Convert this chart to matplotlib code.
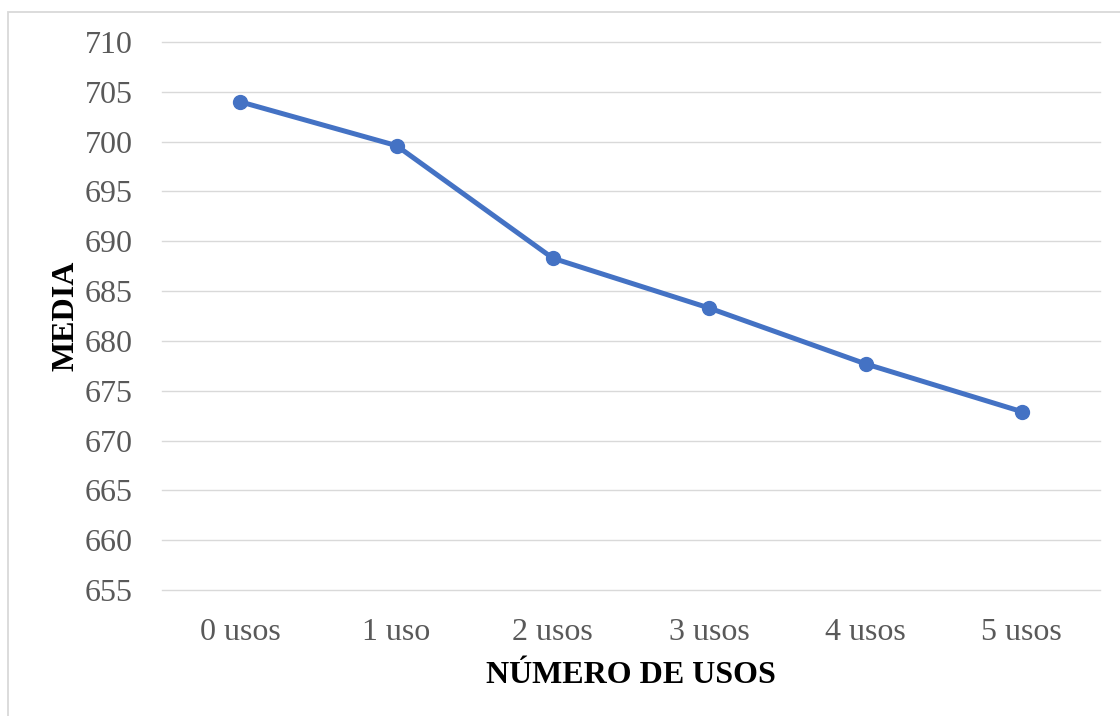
import matplotlib
matplotlib.use("Agg")
import matplotlib.pyplot as plt
from matplotlib.patches import Rectangle

# datos
categorias = ["0 usos", "1 uso", "2 usos", "3 usos", "4 usos", "5 usos"]
media = [704.0, 699.6, 688.3, 683.3, 677.7, 672.9]
y_ticks = list(range(655, 711, 5))

plt.rcParams['font.family'] = ['Liberation Serif', 'DejaVu Serif']

fig = plt.figure(figsize=(11.2, 7.16), dpi=100)
ax = fig.add_axes([162 / 1120, 1 - 590 / 716, 938 / 1120, 548 / 716])

# borde del área del gráfico
fig.patches.append(Rectangle((8 / 1120, -0.1), 1.2, 1.1 - 12 / 716,
                             transform=fig.transFigure, fill=False,
                             edgecolor='#D9D9D9', linewidth=1.3))

x = list(range(len(categorias)))
ax.plot(x, media, color='#4472C4', linewidth=3.6, marker='o',
        markersize=10, solid_capstyle='round', zorder=3)

ax.set_xlim(-0.5, len(categorias) - 0.5)
ax.set_ylim(655, 710)
ax.set_yticks(y_ticks)
ax.set_xticks(x)
ax.set_xticklabels(categorias)
ax.grid(axis='y', color='#D9D9D9', linewidth=1.0)
for gl in ax.get_ygridlines():
    gl.set_clip_on(False)
ax.set_axisbelow(True)
for s in ax.spines.values():
    s.set_visible(False)
ax.tick_params(axis='both', length=0, labelsize=23, colors='#595959')
ax.tick_params(axis='y', pad=21)
ax.tick_params(axis='x', pad=20)

ax.set_ylabel("MEDIA", fontsize=23, fontweight='bold', color='black', labelpad=3)
ax.set_xlabel("NÚMERO DE USOS", fontsize=23, fontweight='bold', color='black', labelpad=10)

fig.savefig("out.png", dpi=100)
